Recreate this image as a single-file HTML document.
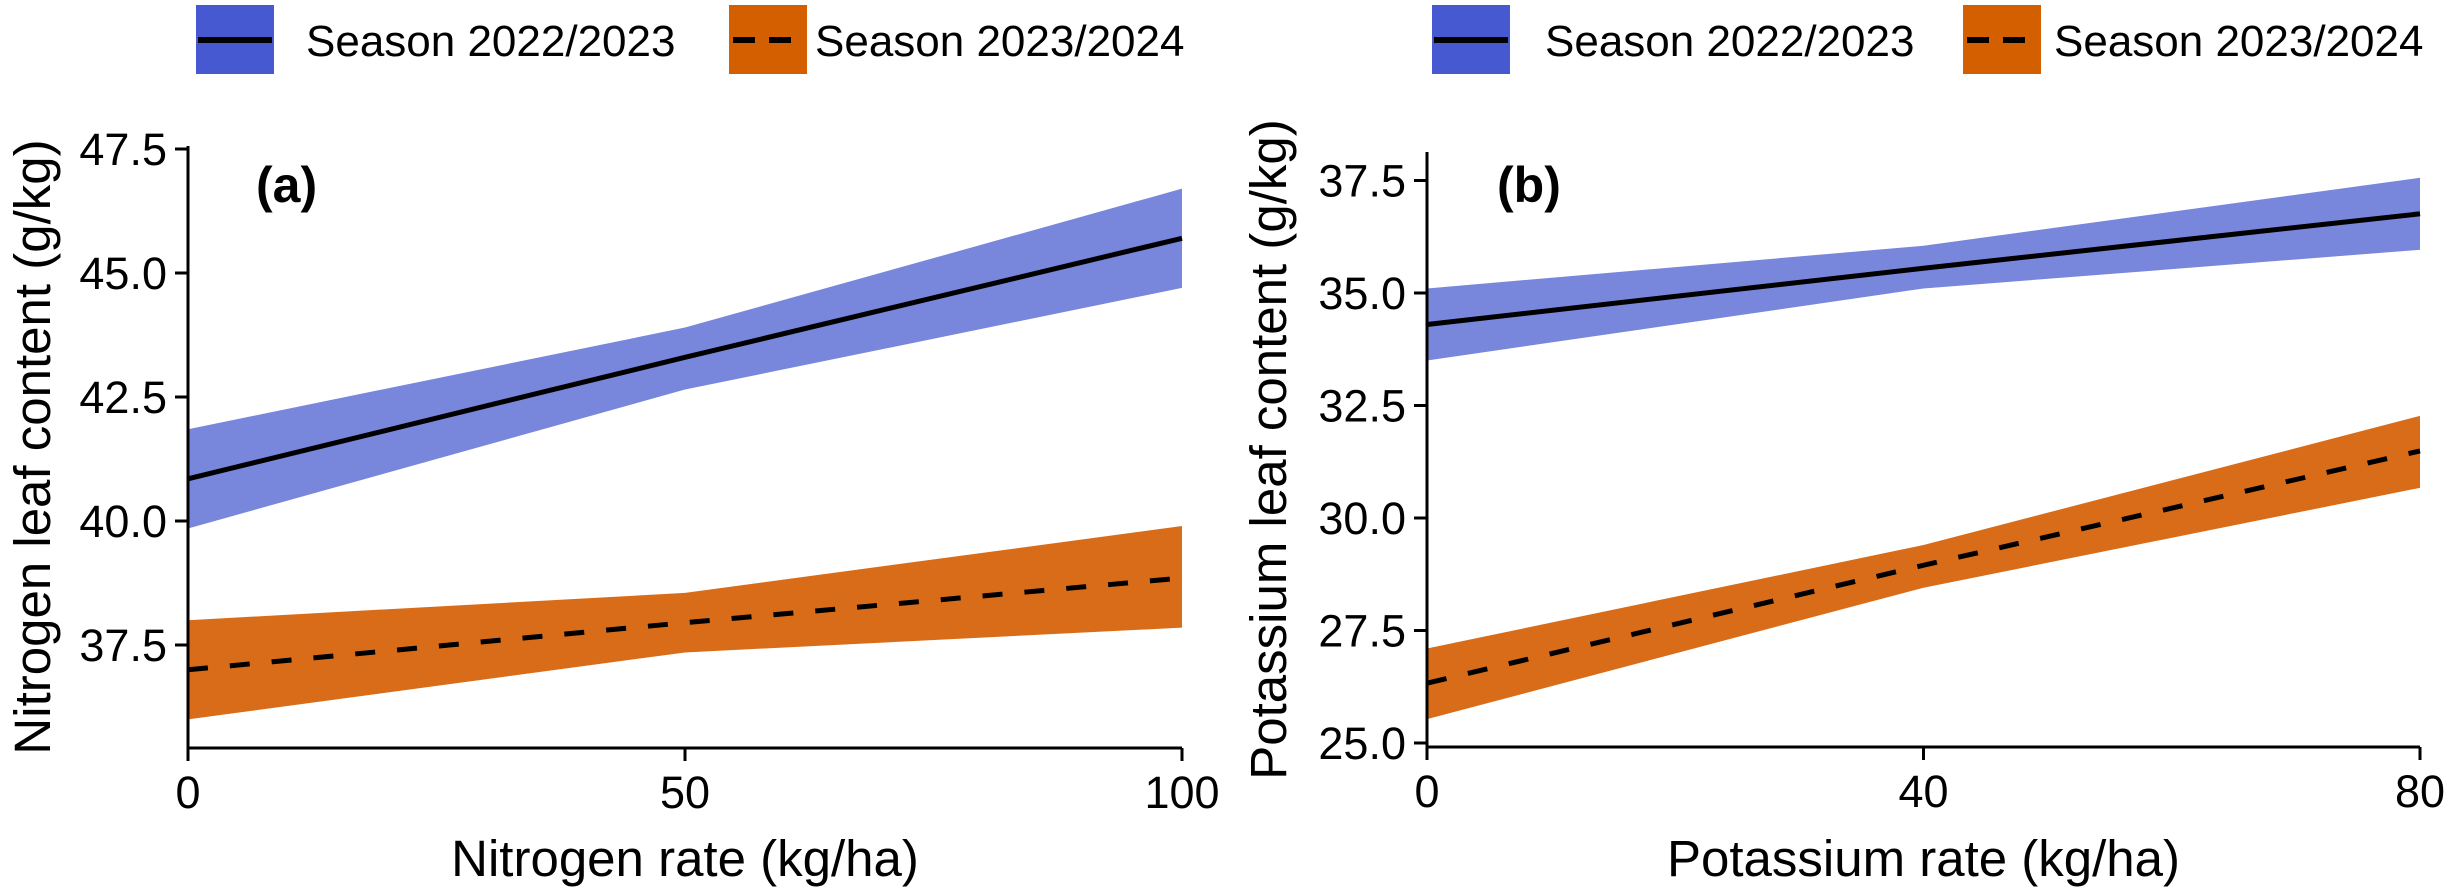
<!DOCTYPE html>
<html><head><meta charset="utf-8"><style>
html,body{margin:0;padding:0;background:#fff;}
svg{display:block;font-family:"Liberation Sans",Arial,sans-serif;}
</style></head><body>
<svg id="chart" width="2458" height="895" viewBox="0 0 2458 895">
<g id="legend-a">
  <g>
    <rect x="196" y="5" width="78" height="69" fill="#4659d0"/>
    <line x1="198" y1="40" x2="272" y2="40" stroke="#000" stroke-width="6"/>
    <text x="306" y="56" font-size="44">Season 2022/2023</text>
  </g>
  <g>
    <rect x="729" y="5" width="78" height="69" fill="#d35f00"/>
    <line x1="733" y1="40" x2="805" y2="40" stroke="#000" stroke-width="6" stroke-dasharray="22,14"/>
    <text x="815" y="56" font-size="44">Season 2023/2024</text>
  </g>
</g>
<g id="legend-b">
  <g>
    <rect x="1432" y="5" width="78" height="69" fill="#4659d0"/>
    <line x1="1434" y1="40" x2="1508" y2="40" stroke="#000" stroke-width="6"/>
    <text x="1545" y="56" font-size="44">Season 2022/2023</text>
  </g>
  <g>
    <rect x="1963" y="5" width="78" height="69" fill="#d35f00"/>
    <line x1="1967" y1="40" x2="2039" y2="40" stroke="#000" stroke-width="6" stroke-dasharray="22,14"/>
    <text x="2054" y="56" font-size="44">Season 2023/2024</text>
  </g>
</g>
<g id="pa"></g>
<g id="pb"></g>
</svg>
<script>
// Panel a data
const aRates = [0, 50, 100];
const aS1 = [40.85, 43.3, 45.7];
const aS1Lo = [39.85, 42.65, 44.7];
const aS1Hi = [41.85, 43.9, 46.7];
const aS2 = [37.0, 37.95, 38.85];
const aS2Lo = [36.0, 37.35, 37.85];
const aS2Hi = [38.0, 38.55, 39.9];
const aYTicks = [37.5, 40.0, 42.5, 45.0, 47.5];
const aXTicks = [0, 50, 100];
// Panel b data
const bRates = [0, 40, 80];
const bS1 = [34.3, 35.55, 36.76];
const bS1Lo = [33.5, 35.1, 35.96];
const bS1Hi = [35.1, 36.05, 37.56];
const bS2 = [26.33, 28.95, 31.49];
const bS2Lo = [25.53, 28.45, 30.67];
const bS2Hi = [27.1, 29.4, 32.27];
const bYTicks = [25.0, 27.5, 30.0, 32.5, 35.0, 37.5];
const bXTicks = [0, 40, 80];

const NS = "http://www.w3.org/2000/svg";
function mk(parent, tag, attrs, text) {
  const e = document.createElementNS(NS, tag);
  for (const k in attrs) e.setAttribute(k, attrs[k]);
  if (text !== undefined) e.textContent = text;
  parent.appendChild(e);
  return e;
}
function drawPanel(g, cfg) {
  const X = v => cfg.x0 + (v - cfg.xMin) / (cfg.xMax - cfg.xMin) * (cfg.x1 - cfg.x0);
  const Y = v => cfg.yRef - (v - cfg.vRef) * cfg.ppu;
  const band = (lo, hi, color, name) => {
    let pts = cfg.rates.map((r, i) => X(r) + "," + Y(hi[i]));
    pts = pts.concat(cfg.rates.map((r, i) => X(r) + "," + Y(lo[i])).reverse());
    const p = mk(g, "polygon", {points: pts.join(" "), fill: color});
    
    
  };
  const line = (vals, dash, name) => {
    const pts = cfg.rates.map((r, i) => X(r) + "," + Y(vals[i])).join(" ");
    const a = {points: pts, fill: "none", stroke: "#000", "stroke-width": 5};
    if (dash) a["stroke-dasharray"] = "20,22";
    const p = mk(g, "polyline", a);
    
    
  };
  band(cfg.s1Lo, cfg.s1Hi, "#7886dc", "band-2022-2023");
  band(cfg.s2Lo, cfg.s2Hi, "#d96c19", "band-2023-2024");
  line(cfg.s1, false, "line-2022-2023");
  line(cfg.s2, true, "line-2023-2024");
  const ya = mk(g, "line", {x1: cfg.x0, y1: cfg.yTop, x2: cfg.x0, y2: cfg.yAxis, stroke: "#000", "stroke-width": 3});
  
  
  const xa = mk(g, "line", {x1: cfg.x0, y1: cfg.yAxis, x2: cfg.x1, y2: cfg.yAxis, stroke: "#000", "stroke-width": 3});
  
  
  cfg.yTicks.forEach(t => {
    const y = Y(t);
    mk(g, "line", {x1: cfg.x0 - 13, y1: y, x2: cfg.x0, y2: y, stroke: "#000", "stroke-width": 3});
    const tx = mk(g, "text", {x: cfg.x0 - 21, y: y + 16, "font-size": 45, "text-anchor": "end"}, t.toFixed(1));
    
    
  });
  cfg.xTicks.forEach(t => {
    const x = X(t);
    mk(g, "line", {x1: x, y1: cfg.yAxis, x2: x, y2: cfg.yAxis + 13, stroke: "#000", "stroke-width": 3});
    const tx = mk(g, "text", {x: x, y: cfg.yAxis + 60, "font-size": 45, "text-anchor": "middle"}, String(t));
    
    
  });
  const xt = mk(g, "text", {x: (cfg.x0 + cfg.x1) / 2, y: 876, "font-size": 51, "text-anchor": "middle"}, cfg.xTitle);
  
  
  const yt = mk(g, "text", {x: 0, y: 0, "font-size": 51, "text-anchor": "middle",
    transform: "translate(" + cfg.yTitleX + "," + ((cfg.yTop + cfg.yAxis) / 2) + ") rotate(-90)"}, cfg.yTitle);
  
  
  const pl = mk(g, "text", {x: cfg.labelX, y: 202, "font-size": 50, "font-weight": "bold"}, cfg.label);
  
  
}
drawPanel(document.getElementById("pa"), {
  x0: 188, x1: 1182, xMin: 0, xMax: 100, yRef: 645, vRef: 37.5, ppu: 49.6,
  yTop: 146, yAxis: 748, rates: aRates, s1: aS1, s1Lo: aS1Lo, s1Hi: aS1Hi,
  s2: aS2, s2Lo: aS2Lo, s2Hi: aS2Hi, yTicks: aYTicks, xTicks: aXTicks,
  xTitle: "Nitrogen rate (kg/ha)", yTitle: "Nitrogen leaf content (g/kg)", yTitleX: 50,
  label: "(a)", labelX: 256
});
drawPanel(document.getElementById("pb"), {
  x0: 1427, x1: 2420, xMin: 0, xMax: 80, yRef: 743, vRef: 25, ppu: 45,
  yTop: 152, yAxis: 747, rates: bRates, s1: bS1, s1Lo: bS1Lo, s1Hi: bS1Hi,
  s2: bS2, s2Lo: bS2Lo, s2Hi: bS2Hi, yTicks: bYTicks, xTicks: bXTicks,
  xTitle: "Potassium rate (kg/ha)", yTitle: "Potassium leaf content (g/kg)", yTitleX: 1286,
  label: "(b)", labelX: 1497
});
</script>
</body></html>
